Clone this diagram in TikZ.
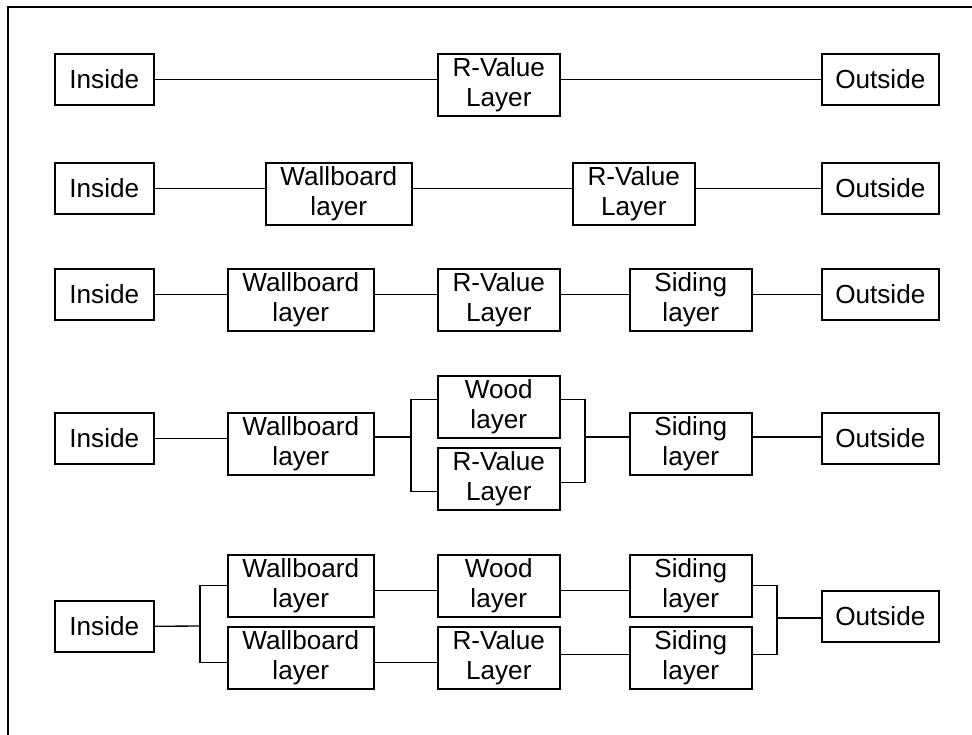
\documentclass[tikz,border=0pt]{standalone}
\usepackage{fontspec}
\setmainfont{Liberation Sans}
\usepackage{tikz}
\tikzset{
    layer/.style={draw=black, line width=1.2pt, anchor=north west, inner sep=0pt,
        align=center, minimum height=46.5pt, minimum width=91.5pt},
    wallboard/.style={layer, minimum width=109.5pt},
    inside/.style={layer, minimum height=38.25pt, minimum width=74.25pt},
    outside/.style={layer, minimum height=38.25pt, minimum width=87.75pt},
    wire/.style={line width=1pt}}

\begin{document}
\begin{tikzpicture}[x=0.75pt, y=-0.75pt, font=\fontsize{19.6}{22.5}\selectfont]

                    \useasboundingbox (0,0) rectangle (972,735);
                    \draw[line width=1.5pt] (8,735) -- (8,7) -- (972,7);

                    \node[inside] (in1) at (54,53) {Inside};
                    \node[layer] (rv1) at (437,53) {R-Value\\Layer};
                    \node[outside] (out1) at (821,53) {Outside};

                    \node[inside] (in2) at (54,162) {Inside};
                    \node[wallboard] (wb2) at (265,162) {Wallboard\\layer};
                    \node[layer] (rv2) at (572,162) {R-Value\\Layer};
                    \node[outside] (out2) at (821,162) {Outside};

                    \node[inside] (in3) at (54,268) {Inside};
                    \node[wallboard] (wb3) at (227,268) {Wallboard\\layer};
                    \node[layer] (rv3) at (437,268) {R-Value\\Layer};
                    \node[layer] (sd3) at (629,268) {Siding\\layer};
                    \node[outside] (out3) at (821,268) {Outside};

                    \node[inside] (in4) at (54,412) {Inside};
                    \node[wallboard] (wb4) at (227,412) {Wallboard\\layer};
                    \node[layer] (wd4) at (437,375) {Wood\\layer};
                    \node[layer] (rv4) at (437,447) {R-Value\\Layer};
                    \node[layer] (sd4) at (629,412) {Siding\\layer};
                    \node[outside] (out4) at (821,412) {Outside};

                    \node[inside] (in5) at (54,600) {Inside};
                    \node[wallboard] (wt5) at (227,554) {Wallboard\\layer};
                    \node[wallboard] (wb5) at (227,626) {Wallboard\\layer};
                    \node[layer] (wd5) at (437,554) {Wood\\layer};
                    \node[layer] (rv5) at (437,626) {R-Value\\Layer};
                    \node[layer] (st5) at (629,554) {Siding\\layer};
                    \node[layer] (sb5) at (629,626) {Siding\\layer};
                    \node[outside] (out5) at (821,590) {Outside};

                    \coordinate (j4l) at (411,437);
                    \coordinate (j4r) at (585,437);
                    \coordinate (j5l) at (200,626);
                    \coordinate (j5r) at (777,618);

                    \draw[wire] (in1.east) -- (in1.east -| rv1.west);
                    \draw[wire] (in1.east -| rv1.east) -- (in1.east -| out1.west);

                    \draw[wire] (in2.east) -- (in2.east -| wb2.west);
                    \draw[wire] (in2.east -| wb2.east) -- (in2.east -| rv2.west);
                    \draw[wire] (in2.east -| rv2.east) -- (in2.east -| out2.west);

                    \draw[wire] (in3.east) -- (in3.east -| wb3.west);
                    \draw[wire] (in3.east -| wb3.east) -- (in3.east -| rv3.west);
                    \draw[wire] (in3.east -| rv3.east) -- (in3.east -| sd3.west);
                    \draw[wire] (in3.east -| sd3.east) -- (in3.east -| out3.west);

                    \draw[wire] (in4.east) -- (in4.east -| wb4.west);
                    \draw[wire] (wb4.east |- j4l) -- (j4l);
                    \draw[wire] ([yshift=5.6pt]wd4.west) -| (j4l) |- ([yshift=-9.75pt]rv4.west);
                    \draw[wire] ([yshift=5.6pt]wd4.east) -| (j4r) |- ([yshift=-3pt]rv4.east);
                    \draw[wire] (j4r) -- (j4r -| sd4.west);
                    \draw[wire] (j4r -| sd4.east) -- (j4r -| out4.west);

                    \draw[wire] (in5.east) -- (j5l);
                    \draw[wire] (wt5.west) -| (j5l) |- ([yshift=-3.75pt]wb5.west);
                    \draw[wire] ([yshift=-3.75pt]wt5.east) -- ([yshift=-3.75pt]wd5.west);
                    \draw[wire] ([yshift=-3.75pt]wd5.east) -- ([yshift=-3.75pt]st5.west);
                    \draw[wire] ([yshift=-3.75pt]wb5.east) -- ([yshift=-3.75pt]rv5.west);
                    \draw[wire] ([yshift=2.25pt]rv5.east) -- ([yshift=2.25pt]sb5.west);
                    \draw[wire] (st5.east) -| (j5r) |- ([yshift=2.25pt]sb5.east);
                    \draw[wire] (j5r) -- (j5r -| out5.west);

                \end{tikzpicture}
\end{document}
